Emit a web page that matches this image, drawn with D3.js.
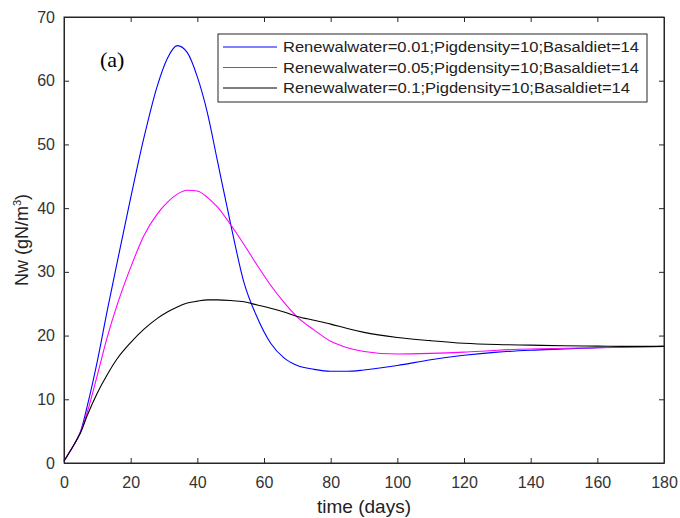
<!DOCTYPE html>
<html><head><meta charset="utf-8">
<script src="https://cdn.jsdelivr.net/npm/d3@7"></script>
<style>body{margin:0;background:#fff}svg{display:block}</style>
</head><body>
<script>
const days = [0,2,4,5,7,10,13,16,20,24,28,31,34,37,40,43,46,50,54,58,62,66,70,75,80,85,90,100,110,120,130,140,150,160,170,180];
const blue = [0.3,2.0,3.8,5.0,9.0,16.0,24.0,31.6,41.6,51.1,59.2,63.5,65.5,64.4,60.6,55.0,47.5,37.5,28.3,22.8,18.8,16.5,15.3,14.7,14.4,14.4,14.6,15.3,16.2,16.9,17.4,17.7,17.9,18.1,18.2,18.3];
const magenta = [0.3,2.0,3.8,4.9,8.0,13.8,19.8,24.9,30.7,35.7,39.1,40.9,42.2,42.8,42.7,41.7,40.2,37.4,34.3,31.0,27.9,25.2,22.9,20.9,19.1,18.1,17.5,17.1,17.2,17.4,17.7,17.9,18.0,18.1,18.2,18.3];
const black = [0.3,2.0,3.8,4.8,7.5,11.0,13.9,16.4,18.9,21.0,22.7,23.7,24.5,25.1,25.4,25.6,25.6,25.5,25.3,24.8,24.3,23.7,23.0,22.4,21.8,21.1,20.5,19.7,19.2,18.8,18.6,18.5,18.4,18.35,18.3,18.3];
const seriesNames = ["Renewalwater=0.01;Pigdensity=10;Basaldiet=14","Renewalwater=0.05;Pigdensity=10;Basaldiet=14","Renewalwater=0.1;Pigdensity=10;Basaldiet=14"];
const seriesColors = ["#0000ff","#ff00ff","#000000"];
const xTicks = [0,20,40,60,80,100,120,140,160,180];
const yTicks = [0,10,20,30,40,50,60,70];

const W = 680, H = 518;
const L = 64, R = 664, T = 17, B = 463;
const svg = d3.select("body").append("svg").attr("width", W).attr("height", H);
const x = d3.scaleLinear().domain([0,180]).range([L,R]);
const y = d3.scaleLinear().domain([0,70]).range([B,T]);
const axc = "#262626";
const font = "'Liberation Sans', Arial, sans-serif";

svg.append("rect").attr("x",L).attr("y",T).attr("width",R-L).attr("height",B-T)
  .attr("fill","#fff").attr("stroke",axc).attr("stroke-width",1);

const gx = svg.append("g").attr("transform",`translate(0,${B})`)
  .call(d3.axisBottom(x).tickValues(xTicks).tickSizeInner(-5).tickSizeOuter(0).tickPadding(14));
const gx2 = svg.append("g").attr("transform",`translate(0,${T})`)
  .call(d3.axisTop(x).tickValues(xTicks).tickSizeInner(-5).tickSizeOuter(0).tickFormat(""));
const gy = svg.append("g").attr("transform",`translate(${L},0)`)
  .call(d3.axisLeft(y).tickValues(yTicks).tickSizeInner(-5).tickSizeOuter(0).tickPadding(9));
const gy2 = svg.append("g").attr("transform",`translate(${R},0)`)
  .call(d3.axisRight(y).tickValues(yTicks).tickSizeInner(-5).tickSizeOuter(0).tickFormat(""));
[gx,gx2,gy,gy2].forEach(g=>{
  g.select(".domain").attr("stroke",axc);
  g.selectAll(".tick line").attr("stroke",axc);
  g.selectAll("text").attr("fill","#333").style("font-family",font).style("font-size","16px");
});

const sets = [blue, magenta, black];
const line = d3.line().x((d,i)=>x(days[i])).y(d=>y(d)).curve(d3.curveMonotoneX);
sets.forEach((s,i)=>{
  svg.append("path").datum(s).attr("d",line).attr("fill","none")
    .attr("stroke",seriesColors[i]).attr("stroke-width",1.1);
});

svg.append("text").attr("x",(L+R)/2).attr("y",513).attr("text-anchor","middle")
  .attr("fill","#222").style("font-family",font).style("font-size","19px").text("time (days)");
const yl = svg.append("text").attr("transform",`translate(28,${(T+B)/2}) rotate(-90)`)
  .attr("text-anchor","middle").attr("fill","#222").style("font-family",font).style("font-size","18px");
yl.append("tspan").text("Nw (gN/m");
yl.append("tspan").attr("dy",-7).style("font-size","11px").text("3");
yl.append("tspan").attr("dy",7).text(")");

svg.append("text").attr("x",100).attr("y",67).attr("fill","#000")
  .style("font-family","'Liberation Serif','Times New Roman',serif").style("font-size","22px").text("(a)");

const lg = svg.append("g");
lg.append("rect").attr("x",218).attr("y",34).attr("width",429).attr("height",68)
  .attr("fill","#fff").attr("stroke",axc).attr("stroke-width",1);
const legendLens = [356,356,347];
seriesNames.forEach((n,i)=>{
  const yy = 47 + i*20.5;
  lg.append("line").attr("x1",223).attr("x2",277).attr("y1",yy).attr("y2",yy)
    .attr("stroke",seriesColors[i]).attr("stroke-width",1.1);
  lg.append("text").attr("x",283).attr("y",yy+5).attr("fill","#222")
    .style("font-family",font).style("font-size","15px")
    .attr("textLength",legendLens[i]).attr("lengthAdjust","spacingAndGlyphs").text(n);
});
</script>
</body></html>
